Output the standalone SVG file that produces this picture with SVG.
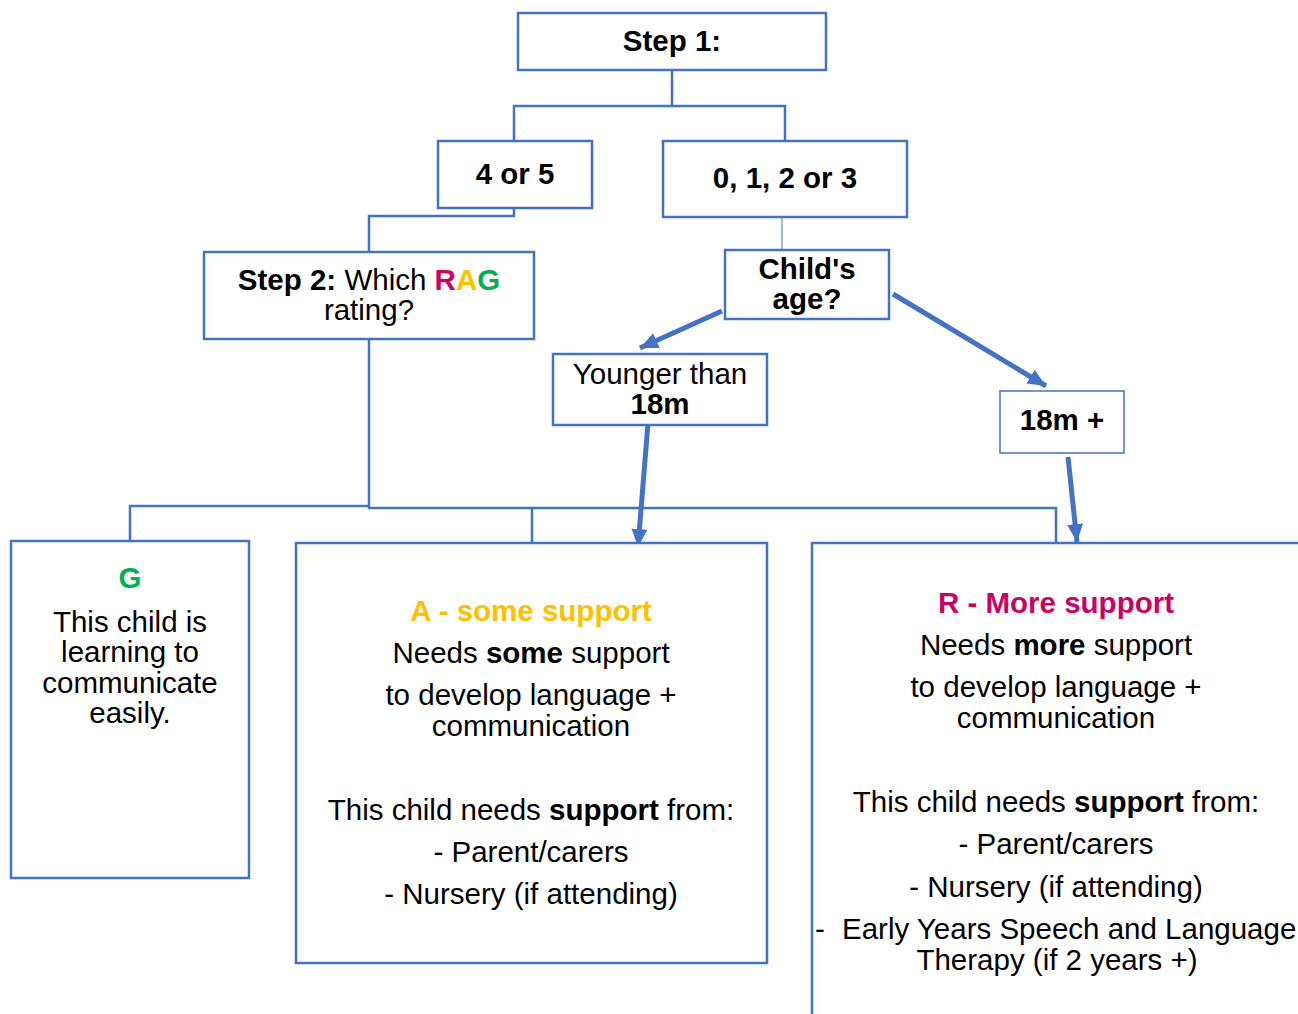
<svg xmlns="http://www.w3.org/2000/svg" width="1298" height="1014" viewBox="0 0 1298 1014">
<style>
.box{fill:#fff;stroke:#4472C4;stroke-width:2.5}
.thin{fill:#fff;stroke:#4472C4;stroke-width:1.5}
.ln{fill:none;stroke:#4472C4;stroke-width:2.5}
.arr{fill:none;stroke:#4472C4;stroke-width:5}
text{font-family:"Liberation Sans",Arial,sans-serif;font-size:29.5px;fill:#000;text-anchor:middle}
.b{font-weight:bold}
.r{fill:#CC0066}.a{fill:#FFC000}.g{fill:#00B050}
</style>
<defs>
<marker id="ah" markerUnits="userSpaceOnUse" markerWidth="20" markerHeight="20" viewBox="0 0 20 20" refX="18" refY="10" orient="auto">
<path d="M0,2 L18,10 L0,18 Z" fill="#4472C4"/>
</marker>
</defs>
<g id="connectors">
<polyline class="ln" points="672,70 672,106"/>
<polyline class="ln" points="514,141 514,106 785,106 785,141"/>
<polyline class="ln" points="514,208 514,216 369,216 369,252"/>
<line x1="782" y1="217" x2="782" y2="250" stroke="#4472C4" stroke-width="1"/>
<polyline class="ln" points="369,339 369,508 1056,508 1056,543"/>
<polyline class="ln" points="369,506 130,506 130,541"/>
<line class="ln" x1="532" y1="508" x2="532" y2="543"/>
<line class="arr" x1="722" y1="311" x2="640" y2="348" marker-end="url(#ah)"/>
<line class="arr" x1="893" y1="294" x2="1046" y2="386" marker-end="url(#ah)"/>
<line class="arr" x1="648" y1="423" x2="638" y2="547" marker-end="url(#ah)"/>
<line class="arr" x1="1068" y1="457" x2="1077" y2="542" marker-end="url(#ah)"/>
</g>
<g id="step1">
<rect class="box" x="518" y="13" width="308" height="57"/>
<text class="b" x="672" y="51">Step 1:</text>
</g>
<g id="n45">
<rect class="box" x="438" y="141" width="154" height="67"/>
<text class="b" x="515" y="184">4 or 5</text>
</g>
<g id="n0123">
<rect class="box" x="663" y="141" width="244" height="76"/>
<text class="b" x="785" y="188">0, 1, 2 or 3</text>
</g>
<g id="step2">
<rect class="box" x="204" y="252" width="330" height="87"/>
<text x="369" y="290"><tspan class="b">Step 2:</tspan> Which <tspan class="b r">R</tspan><tspan class="b a">A</tspan><tspan class="b g">G</tspan></text>
<text x="369" y="320">rating?</text>
</g>
<g id="age">
<rect class="box" x="725" y="250" width="164" height="69"/>
<text class="b" x="807" y="279">Child's</text>
<text class="b" x="807" y="309">age?</text>
</g>
<g id="younger">
<rect class="box" x="553" y="354" width="214" height="71"/>
<text x="660" y="384">Younger than</text>
<text class="b" x="660" y="414">18m</text>
</g>
<g id="older">
<rect class="thin" x="1000" y="391" width="124" height="62"/>
<text class="b" x="1062" y="430">18m +</text>
</g>
<g id="green">
<rect class="box" x="11" y="541" width="238" height="337"/>
<text class="b g" x="130" y="588">G</text>
<text x="130" y="632">This child is</text>
<text x="130" y="662">learning to</text>
<text x="130" y="693">communicate</text>
<text x="130" y="723">easily.</text>
</g>
<g id="amber">
<rect class="box" x="296" y="543" width="471" height="420"/>
<text class="b a" x="531" y="621">A - some support</text>
<text x="531" y="663">Needs <tspan class="b">some</tspan> support</text>
<text x="531" y="705">to develop language +</text>
<text x="531" y="736">communication</text>
<text x="531" y="820">This child needs <tspan class="b">support</tspan> from:</text>
<text x="531" y="862">- Parent/carers</text>
<text x="531" y="904">- Nursery (if attending)</text>
</g>
<g id="red">
<rect class="box" x="812" y="543" width="500" height="490"/>
<text class="b r" x="1056" y="613">R - More support</text>
<text x="1056" y="655">Needs <tspan class="b">more</tspan> support</text>
<text x="1056" y="697">to develop language +</text>
<text x="1056" y="728">communication</text>
<text x="1056" y="812">This child needs <tspan class="b">support</tspan> from:</text>
<text x="1056" y="854">- Parent/carers</text>
<text x="1056" y="897">- Nursery (if attending)</text>
<text x="815" y="939" style="text-anchor:start">-</text>
<text x="842" y="939" style="text-anchor:start">Early Years Speech and Language</text>
<text x="1057" y="970">Therapy (if 2 years +)</text>
</g>
</svg>
